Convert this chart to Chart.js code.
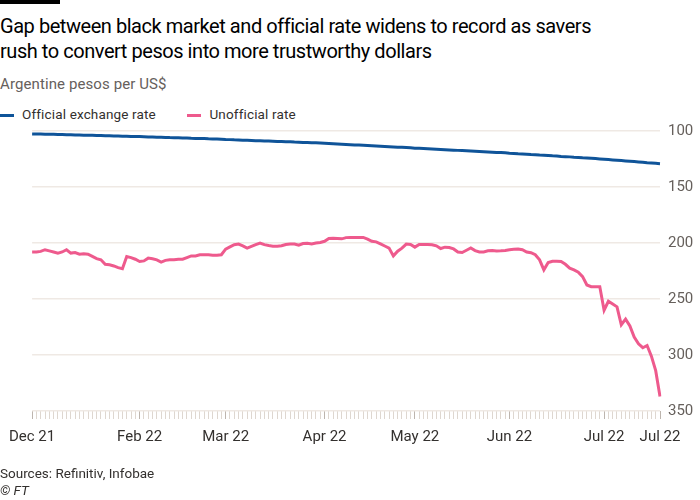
<!DOCTYPE html>
<html>
<head>
<meta charset="utf-8">
<script src="https://cdn.jsdelivr.net/npm/chart.js@4.4.0/dist/chart.umd.min.js"></script>
<style>
  body { margin: 0; background: #fff; font-family: Roboto, "Noto Sans", sans-serif; }
  #wrap { position: relative; width: 700px; height: 500px; overflow: hidden; }
  #bar { position: absolute; left: 0; top: 0; width: 60px; height: 4px; background: #000; }
  #title { position: absolute; left: 0; top: 14px; font-size: 20px; line-height: 25px; color: #000; letter-spacing: -0.45px; }
  #sub { position: absolute; left: 0; top: 75px; font-size: 15px; color: #66605c; letter-spacing: 0.1px; }
  #legend { position: absolute; left: 0; top: 106px; font-size: 13.5px; color: #33302e; letter-spacing: 0.15px; }
  #legend span.sw { display: inline-block; width: 14px; height: 3px; vertical-align: middle; margin-right: 8px; }
  #legend span.item { margin-right: 28px; }
  #src { position: absolute; left: 0; top: 465px; font-size: 13.5px; color: #33302e; line-height: 17px; }
  canvas { position: absolute; left: 0; top: 0; }
</style>
</head>
<body>
<div id="wrap">
  <div id="bar"></div>
  <div id="title">Gap between black market and official rate widens to record as savers<br>rush to convert pesos into more trustworthy dollars</div>
  <div id="sub">Argentine pesos per US$</div>
  <div id="legend">
    <span class="item"><span class="sw" style="background:#0f5499"></span>Official exchange rate</span>
    <span class="item"><span class="sw" style="background:#ee5a8d"></span>Unofficial rate</span>
  </div>
  <canvas id="chart" width="700" height="500"></canvas>
  <div id="src">Sources: Refinitiv, Infobae<br><i>© FT</i></div>
</div>
<script>
// trading days, first one is 28 Dec 2021
const startDate = "2021-12-28";
const dayCount = 147;

// tick labels: category index -> text
const tickIndex = [0, 25, 45, 68, 89, 111, 133, 146];
const tickText = ["Dec 21", "Feb 22", "Mar 22", "Apr 22", "May 22", "Jun 22", "Jul 22", "Jul 22"];

const yTicks = [100, 150, 200, 250, 300, 350];

const officialRate = [
  102.6, 102.7, 102.7, 102.8,
  102.9, 103.0, 103.1, 103.2, 103.3, 103.4, 103.5, 103.6, 103.7, 103.8, 103.9,
  104.0, 104.1, 104.2, 104.3, 104.4, 104.5, 104.6, 104.7, 104.8, 104.9,
  105.0, 105.1, 105.3, 105.4, 105.5, 105.6, 105.7, 105.9, 106.0, 106.1,
  106.2, 106.3, 106.5, 106.6, 106.7, 106.8, 107.0, 107.1, 107.2, 107.4,
  107.6, 107.7, 107.9, 108.0, 108.2, 108.3, 108.4, 108.6, 108.7, 108.9, 109.0, 109.1,
  109.3, 109.4, 109.6, 109.7, 109.9, 110.0, 110.2, 110.3, 110.5, 110.6, 110.8,
  111.0, 111.2, 111.4, 111.6, 111.8, 112.0, 112.2, 112.4, 112.6, 112.8, 113.0,
  113.2, 113.4, 113.6, 113.8, 114.0, 114.2, 114.4, 114.6, 114.8, 115.0,
  115.3, 115.5, 115.7, 115.9, 116.1, 116.3, 116.5, 116.7, 116.9, 117.1, 117.3,
  117.5, 117.7, 117.9, 118.1, 118.3, 118.5, 118.7, 118.9, 119.1, 119.3, 119.5,
  119.8, 120.0, 120.3, 120.5, 120.7, 121.0, 121.2, 121.5, 121.7, 121.9, 122.2,
  122.4, 122.7, 122.9, 123.1, 123.4, 123.6, 123.9, 124.1, 124.3, 124.6, 124.9,
  125.2, 125.5, 125.8, 126.1, 126.4, 126.7, 127.0, 127.3, 127.6, 127.9, 128.3,
  128.6, 128.9, 129.2
];

const unofficialRate = [
  208, 208, 207.5, 206, 207, 208, 209, 208, 206, 209,
  208.5, 210, 209.5, 210, 212, 214, 215, 219, 219.5, 220.5,
  222, 223, 212, 213, 214.5, 216.5, 216, 213.5, 214, 215,
  217, 215.5, 215, 215, 214.5, 214.5, 213, 211.5, 211.5, 210.5,
  210.5, 210.5, 211, 211, 210.5, 205.5, 203.5, 201.5, 201, 202.5,
  204.5, 203, 201.5, 200, 201.5, 202.3, 202.8, 203, 202.5, 201.3,
  201, 201, 202, 200.5, 200.3, 200.8, 200, 199.5, 198.5, 196,
  195.7, 196, 196.3, 195.2, 195, 195, 195, 195, 196.5, 198.5,
  199, 200.8, 202.7, 204.5, 211.5, 207.3, 204.6, 201, 201.3, 203.7,
  201.3, 201.3, 201.3, 201.5, 202.5, 204.9, 203.7, 204, 205.3, 208,
  208.5, 206.5, 204.5, 206.8, 208, 208, 207, 206.8, 207.2, 207,
  206.6, 206, 205.5, 205.3, 206, 208, 208.7, 210.5, 215, 224,
  217.5, 216.3, 216.3, 216.5, 219, 222.5, 224, 226, 230, 237.5,
  239, 239, 239, 260, 252, 254.5, 257, 273, 268, 274,
  284, 290, 293.5, 291.5, 301, 314, 337
];

function makeDays() {
  var days = [];
  var d = new Date(startDate + "T12:00:00Z");
  while (days.length < dayCount) {
    var wd = d.getUTCDay();
    if (wd != 0 && wd != 6) days.push(d.toISOString().slice(0, 10));
    d.setUTCDate(d.getUTCDate() + 1);
  }
  return days;
}

var labels = makeDays();

var ctx = document.getElementById("chart").getContext("2d");
var myChart = new Chart(ctx, {
  type: "line",
  data: {
    labels: labels,
    datasets: [
      {
        label: "Official exchange rate",
        data: officialRate,
        borderColor: "#0f5499",
        borderWidth: 3,
        pointRadius: 0,
        tension: 0
      },
      {
        label: "Unofficial rate",
        data: unofficialRate,
        borderColor: "#ee5a8d",
        borderWidth: 3,
        pointRadius: 0,
        tension: 0
      }
    ]
  },
  options: {
    responsive: false,
    animation: false,
    layout: { padding: { left: 22, right: 0, top: 131, bottom: 40 } },
    plugins: {
      legend: { display: false },
      tooltip: { enabled: false }
    },
    scales: {
      x: {
        afterFit: function(scale) { scale.height = 49; },
        border: { display: false },
        grid: {
          drawOnChartArea: false,
          tickLength: 8,
          tickColor: function(c) {
            return tickIndex.indexOf(c.index) >= 0 ? "#bdb5ae" : "#ded7d0";
          }
        },
        ticks: {
          autoSkip: false,
          maxRotation: 0,
          padding: 9,
          color: "#33302e",
          font: { family: "Roboto", size: 15 },
          callback: function(value, index) {
            var k = tickIndex.indexOf(index);
            return k >= 0 ? tickText[k] : "";
          }
        }
      },
      y: {
        position: "right",
        reverse: true,
        min: yTicks[0],
        max: yTicks[yTicks.length - 1],
        afterFit: function(scale) { scale.width = 40; },
        afterBuildTicks: function(scale) {
          scale.ticks = yTicks.map(function(v) { return { value: v }; });
        },
        border: { display: false },
        grid: { color: "#efe9e4", lineWidth: 1.5, drawTicks: false },
        ticks: {
          padding: 8,
          color: "#66605c",
          font: { family: "Roboto", size: 15 }
        }
      }
    }
  }
});
</script>
</body>
</html>
